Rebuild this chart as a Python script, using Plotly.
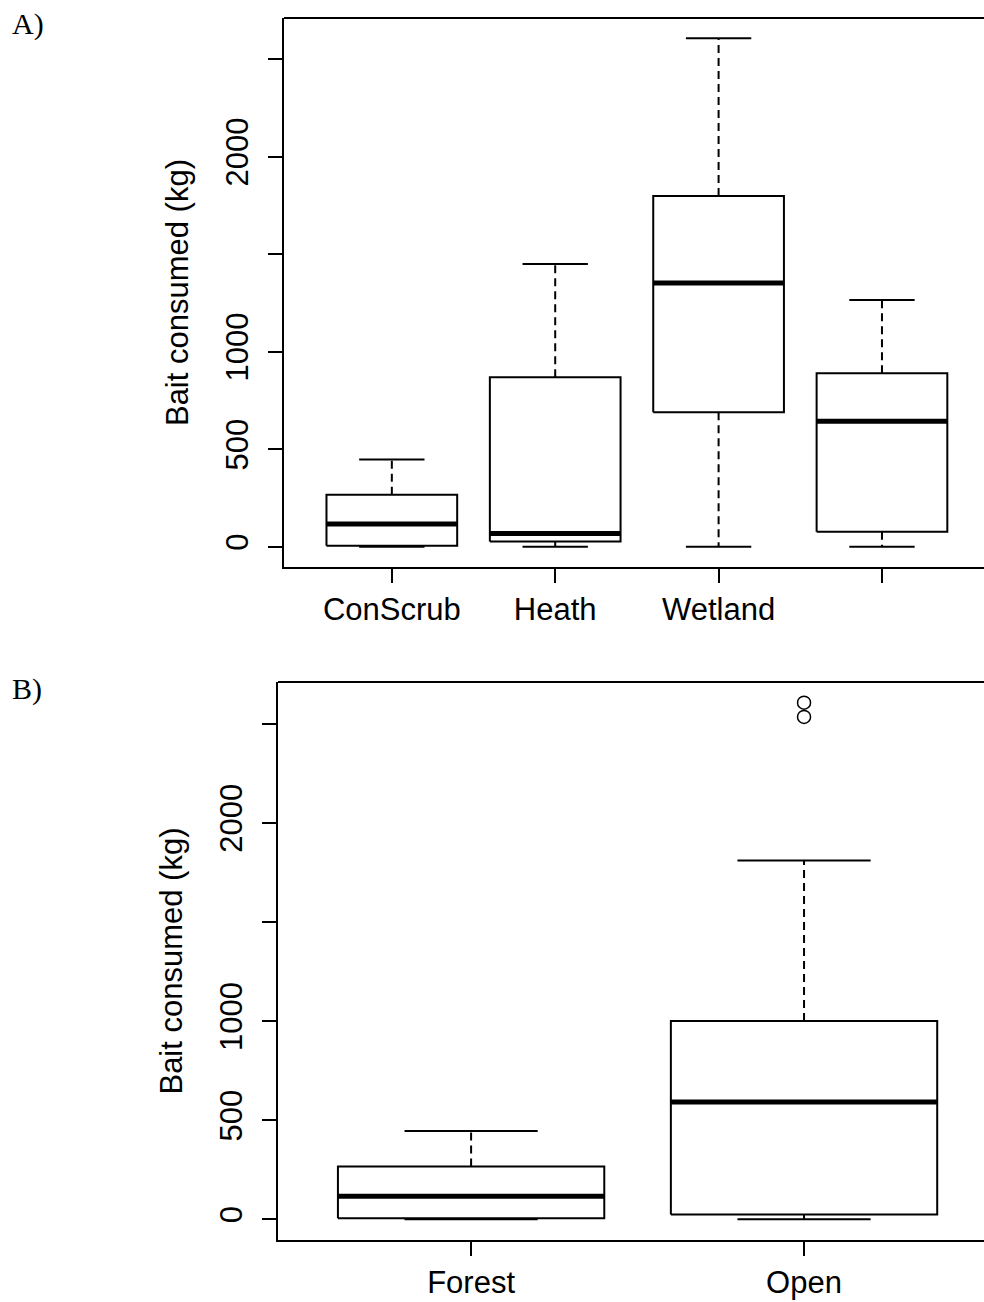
import numpy as np
import plotly.graph_objects as go

# ---------------- data ----------------
# Panel A: habitat
a_labels = ["ConScrub", "Heath", "Wetland", ""]
a_lower = [0, 0, 0, 0]
a_q1 = [5, 26, 689, 77]
a_median = [116, 68, 1352, 643]
a_q3 = [266, 869, 1799, 889]
a_upper = [447, 1450, 2607, 1265]

# Panel B: canopy
b_labels = ["Forest", "Open"]
b_lower = [0, 0]
b_q1 = [5, 25]
b_median = [116, 592]
b_q3 = [267, 1001]
b_upper = [446, 1811]
b_out_x = [2, 2]
b_out_y = [2607, 2535]

y_ticks = [0, 500, 1000, 1500, 2000, 2500]
y_ticktext = ["0", "500", "1000", "", "2000", ""]

W, H = 984, 1302
SANS = "Arial, Liberation Sans, sans-serif"
SERIF = "Times New Roman, Liberation Serif, serif"
FS = 31

fig = go.Figure()


def add_boxes(lower, q1, med, q3, upper, xa, ya, bw=0.4, sw=0.2):
    for i in range(len(med)):
        c = i + 1
        # box
        fig.add_trace(go.Scatter(
            x=[c - bw, c + bw, c + bw, c - bw, c - bw],
            y=[q1[i], q1[i], q3[i], q3[i], q1[i]],
            mode="lines", line=dict(color="black", width=2),
            xaxis=xa, yaxis=ya, showlegend=False, hoverinfo="skip"))
        # whiskers (dashed)
        fig.add_trace(go.Scatter(
            x=[c, c, None, c, c],
            y=[q3[i], upper[i], None, q1[i], lower[i]],
            mode="lines", line=dict(color="black", width=2, dash="8px,5px"),
            xaxis=xa, yaxis=ya, showlegend=False, hoverinfo="skip"))
        # staples
        fig.add_trace(go.Scatter(
            x=[c - sw, c + sw, None, c - sw, c + sw],
            y=[upper[i], upper[i], None, lower[i], lower[i]],
            mode="lines", line=dict(color="black", width=2),
            xaxis=xa, yaxis=ya, showlegend=False, hoverinfo="skip"))
        # median
        fig.add_trace(go.Scatter(
            x=[c - bw, c + bw], y=[med[i], med[i]],
            mode="lines", line=dict(color="black", width=5),
            xaxis=xa, yaxis=ya, showlegend=False, hoverinfo="skip"))


add_boxes(a_lower, a_q1, a_median, a_q3, a_upper, "x", "y")
add_boxes(b_lower, b_q1, b_median, b_q3, b_upper, "x2", "y2")

fig.add_trace(go.Scatter(
    x=b_out_x, y=b_out_y, mode="markers",
    marker=dict(symbol="circle-open", size=13, color="black", line=dict(width=1.5)),
    xaxis="x2", yaxis="y2", showlegend=False, hoverinfo="skip"))

yr = [-104.3, 2711.3]

axis_common = dict(
    showgrid=False, zeroline=False, showline=True, linecolor="black", linewidth=2,
    ticks="outside", ticklen=14, tickwidth=2, tickcolor="black",
    tickfont=dict(family=SANS, size=FS, color="black"), automargin=False,
)

fig.update_layout(
    width=W, height=H, margin=dict(l=0, r=0, t=0, b=0),
    paper_bgcolor="white", plot_bgcolor="white",
    xaxis=dict(domain=[284 / W, 1], range=[0.34, 4 + 102 / 163.33],
               tickvals=[1, 2, 3, 4], ticktext=a_labels, anchor="y",
               ticklabelstandoff=0, **axis_common),
    yaxis=dict(domain=[1 - 567 / H, 1 - 18 / H], range=yr,
               tickvals=y_ticks, ticktext=y_ticktext, tickangle=-90, anchor="x",
               ticklabelstandoff=8,
               title=dict(text="Bait consumed (kg)", font=dict(family=SANS, size=FS, color="black"),
                          standoff=22),
               **axis_common),
    xaxis2=dict(domain=[278 / W, 1], range=[0.42, 2 + 180 / 333.0],
                tickvals=[1, 2], ticktext=b_labels, anchor="y2",
                ticklabelstandoff=0, **axis_common),
    yaxis2=dict(domain=[1 - 1240 / H, 1 - 682 / H], range=yr,
                tickvals=y_ticks, ticktext=y_ticktext, tickangle=-90, anchor="x2",
                ticklabelstandoff=8,
                title=dict(text="Bait consumed (kg)", font=dict(family=SANS, size=FS, color="black"),
                           standoff=22),
                **axis_common),
)

# top frame lines (right side of the frame lies outside the image)
for xr, yref in [("x domain", "y domain"), ("x2 domain", "y2 domain")]:
    fig.add_shape(type="line", xref=xr, yref=yref, x0=0, x1=1, y0=1, y1=1,
                  line=dict(color="black", width=2))

fig.add_annotation(text="A)", x=10 / W, y=1 - 5 / H, xref="paper", yref="paper",
                   xanchor="left", yanchor="top", showarrow=False,
                   font=dict(family=SERIF, size=30, color="black"))
fig.add_annotation(text="B)", x=10 / W, y=1 - 670 / H, xref="paper", yref="paper",
                   xanchor="left", yanchor="top", showarrow=False,
                   font=dict(family=SERIF, size=30, color="black"))

fig.write_html("out.html")
